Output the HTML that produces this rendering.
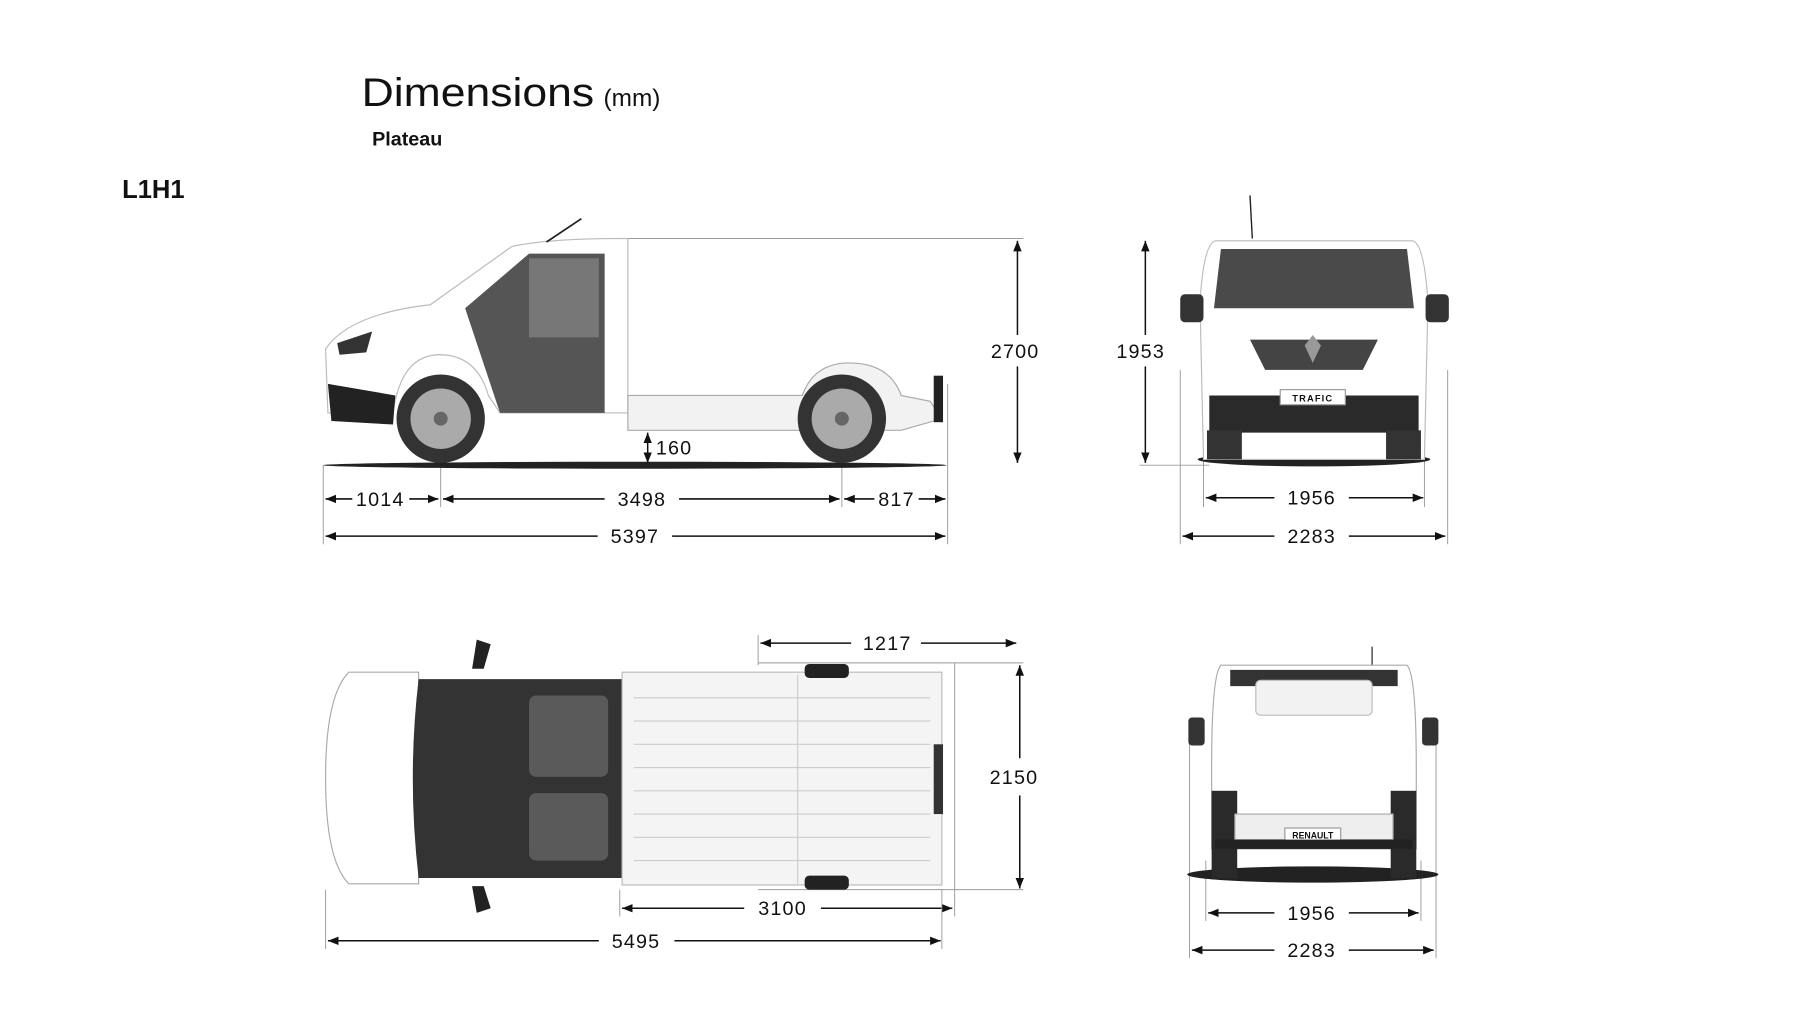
<!DOCTYPE html>
<html><head><meta charset="utf-8"><style>
html,body{margin:0;padding:0;background:#fff;}
svg{display:block;}
text{font-family:"Liberation Sans",sans-serif;fill:#111;}
.d{font-size:17px;letter-spacing:1px;}
</style></head><body>
<svg width="1800" height="1013" viewBox="0 0 1548 871" xmlns="http://www.w3.org/2000/svg">
<defs>
<marker id="a" viewBox="0 0 10 10" refX="10" refY="5" markerWidth="7" markerHeight="7" orient="auto-start-reverse"><path d="M0,1 L10,5 L0,9 z" fill="#111"/></marker>
</defs>
<rect width="1548" height="871" fill="#fff"/>
<text x="311" y="91" font-size="34" textLength="200" lengthAdjust="spacingAndGlyphs">Dimensions</text>
<text x="519" y="91" font-size="21">(mm)</text>
<text x="320" y="125" font-size="17" font-weight="bold">Plateau</text>
<text x="105" y="170" font-size="22" font-weight="bold">L1H1</text>

<!-- SIDE VIEW -->
<g stroke="#999" stroke-width="0.8">
<line x1="278" y1="400" x2="278" y2="468"/><line x1="379" y1="400" x2="379" y2="436"/>
<line x1="724" y1="400" x2="724" y2="436"/><line x1="815" y1="330" x2="815" y2="468"/>
<line x1="540" y1="205" x2="880" y2="205"/>
</g>
<ellipse cx="546" cy="400" rx="268" ry="3" fill="#222"/>
<path d="M280,300 Q300,270 370,262 L440,212 Q470,205 540,205 L540,355 L430,355 L420,340 Q410,305 378,305 Q345,305 338,355 L282,355 Z" fill="#fff" stroke="#bbb"/>
<path d="M400,265 L455,218 L520,218 L520,355 L430,355 Z" fill="#555"/>
<path d="M455,222 L515,222 L515,290 L455,290 Z" fill="#777"/>
<path d="M282,330 L340,340 L338,365 L285,362 Z" fill="#222"/>
<path d="M290,295 L320,285 L315,303 L292,305 Z" fill="#333"/>
<path d="M540,340 L690,340 Q700,312 730,312 Q765,312 775,340 L800,345 L810,360 L775,370 L540,370 Z" fill="#f2f2f2" stroke="#aaa"/>
<rect x="803" y="323" width="8" height="40" fill="#222"/>
<g><circle cx="379" cy="360" r="38" fill="#333"/><circle cx="379" cy="360" r="26" fill="#aaa"/><circle cx="379" cy="360" r="6" fill="#666"/>
<circle cx="724" cy="360" r="38" fill="#333"/><circle cx="724" cy="360" r="26" fill="#aaa"/><circle cx="724" cy="360" r="6" fill="#666"/></g>
<line x1="500" y1="188" x2="470" y2="208" stroke="#222" stroke-width="1.5"/>
<g stroke="#111" stroke-width="1.3" marker-start="url(#a)" marker-end="url(#a)">
<line x1="280" y1="429" x2="303" y2="429" marker-end="none"/><line x1="352" y1="429" x2="377" y2="429" marker-start="none"/>
<line x1="381" y1="429" x2="520" y2="429" marker-end="none"/><line x1="584" y1="429" x2="722" y2="429" marker-start="none"/>
<line x1="726" y1="429" x2="752" y2="429" marker-end="none"/><line x1="790" y1="429" x2="813" y2="429" marker-start="none"/>
<line x1="280" y1="461" x2="514" y2="461" marker-end="none"/><line x1="578" y1="461" x2="813" y2="461" marker-start="none"/>
<line x1="875" y1="207" x2="875" y2="288" marker-end="none"/><line x1="875" y1="315" x2="875" y2="398" marker-start="none"/>
<line x1="557" y1="372" x2="557" y2="398"/>
<line x1="985" y1="207" x2="985" y2="288" marker-end="none"/><line x1="985" y1="315" x2="985" y2="398" marker-start="none"/>
<line x1="1037" y1="428" x2="1096" y2="428" marker-end="none"/><line x1="1160" y1="428" x2="1224" y2="428" marker-start="none"/>
<line x1="1017" y1="461" x2="1096" y2="461" marker-end="none"/><line x1="1160" y1="461" x2="1243" y2="461" marker-start="none"/>
<line x1="654" y1="553" x2="732" y2="553" marker-end="none"/><line x1="792" y1="553" x2="874" y2="553" marker-start="none"/>
<line x1="535" y1="781" x2="640" y2="781" marker-end="none"/><line x1="706" y1="781" x2="819" y2="781" marker-start="none"/>
<line x1="282" y1="809" x2="515" y2="809" marker-end="none"/><line x1="580" y1="809" x2="809" y2="809" marker-start="none"/>
<line x1="877" y1="572" x2="877" y2="652" marker-end="none"/><line x1="877" y1="684" x2="877" y2="764" marker-start="none"/>
<line x1="1039" y1="785" x2="1096" y2="785" marker-end="none"/><line x1="1160" y1="785" x2="1220" y2="785" marker-start="none"/>
<line x1="1025" y1="817" x2="1096" y2="817" marker-end="none"/><line x1="1160" y1="817" x2="1233" y2="817" marker-start="none"/>
</g>
<text class="d" x="327" y="435" text-anchor="middle">1014</text>
<text class="d" x="552" y="435" text-anchor="middle">3498</text>
<text class="d" x="771" y="435" text-anchor="middle">817</text>
<text class="d" x="546" y="467" text-anchor="middle">5397</text>
<text class="d" x="873" y="308" text-anchor="middle">2700</text>
<text class="d" x="564" y="391">160</text>

<!-- FRONT VIEW -->
<g stroke="#999" stroke-width="0.8">
<line x1="980" y1="400" x2="1040" y2="400"/><line x1="1015" y1="318" x2="1015" y2="468"/><line x1="1245" y1="318" x2="1245" y2="468"/>
<line x1="1035" y1="345" x2="1035" y2="436"/><line x1="1225" y1="345" x2="1225" y2="436"/>
</g>
<line x1="1075" y1="168" x2="1077" y2="205" stroke="#222" stroke-width="1.2"/>
<ellipse cx="1130" cy="395" rx="100" ry="6" fill="#222"/>
<path d="M1045,207 L1215,207 Q1225,210 1228,260 L1225,395 L1035,395 L1032,260 Q1035,210 1045,207 Z" fill="#fff" stroke="#bbb"/>
<path d="M1050,214 L1210,214 L1216,265 L1044,265 Z" fill="#4a4a4a"/>
<rect x="1015" y="253" width="20" height="24" rx="4" fill="#333"/><rect x="1226" y="253" width="20" height="24" rx="4" fill="#333"/>
<path d="M1075,292 L1185,292 L1172,318 L1088,318 Z" fill="#444"/>
<path d="M1040,340 L1220,340 L1220,372 L1040,372 Z" fill="#2a2a2a"/>
<rect x="1038" y="370" width="30" height="25" fill="#333"/><rect x="1192" y="370" width="30" height="25" fill="#333"/>
<rect x="1101" y="335" width="56" height="13" fill="#fff" stroke="#999"/>
<text x="1129" y="345" font-size="8" font-weight="bold" text-anchor="middle" letter-spacing="1">TRAFIC</text>
<path d="M1122,297 L1129,288 L1136,297 L1129,312 Z" fill="#999"/>
<text class="d" x="981" y="308" text-anchor="middle">1953</text>
<text class="d" x="1128" y="434" text-anchor="middle">1956</text>
<text class="d" x="1128" y="467" text-anchor="middle">2283</text>

<!-- TOP VIEW -->
<g stroke="#999" stroke-width="0.8">
<line x1="280" y1="765" x2="280" y2="816"/><line x1="810" y1="765" x2="810" y2="816"/>
<line x1="533" y1="765" x2="533" y2="788"/><line x1="821" y1="570" x2="821" y2="788"/>
<line x1="652" y1="546" x2="652" y2="572"/>
<line x1="652" y1="570" x2="880" y2="570"/><line x1="652" y1="765" x2="880" y2="765"/>
</g>
<path d="M300,578 L360,578 L360,760 L300,760 Q280,740 280,669 Q280,598 300,578 Z" fill="#fff" stroke="#aaa"/>
<path d="M360,584 L535,584 L535,755 L360,755 Q350,669 360,584 Z" fill="#333"/>
<rect x="455" y="598" width="68" height="70" rx="6" fill="#5a5a5a"/><rect x="455" y="682" width="68" height="58" rx="6" fill="#5a5a5a"/>
<path d="M410,550 L422,554 L416,575 L406,575 Z" fill="#222"/><path d="M410,785 L422,781 L416,762 L406,762 Z" fill="#222"/>
<rect x="535" y="578" width="275" height="183" fill="#f4f4f4" stroke="#bbb"/>
<g stroke="#ccc" stroke-width="1">
<line x1="545" y1="600" x2="800" y2="600"/><line x1="545" y1="620" x2="800" y2="620"/><line x1="545" y1="640" x2="800" y2="640"/><line x1="545" y1="660" x2="800" y2="660"/><line x1="545" y1="680" x2="800" y2="680"/><line x1="545" y1="700" x2="800" y2="700"/><line x1="545" y1="720" x2="800" y2="720"/><line x1="545" y1="740" x2="800" y2="740"/>
<line x1="686" y1="580" x2="686" y2="760"/>
</g>
<rect x="692" y="571" width="38" height="12" rx="4" fill="#222"/><rect x="692" y="753" width="38" height="12" rx="4" fill="#222"/>
<rect x="803" y="640" width="8" height="60" fill="#333"/>
<text class="d" x="763" y="559" text-anchor="middle">1217</text>
<text class="d" x="673" y="787" text-anchor="middle">3100</text>
<text class="d" x="547" y="815" text-anchor="middle">5495</text>
<text class="d" x="872" y="674" text-anchor="middle">2150</text>

<!-- REAR VIEW -->
<g stroke="#999" stroke-width="0.8">
<line x1="1023" y1="640" x2="1023" y2="824"/><line x1="1235" y1="640" x2="1235" y2="824"/>
<line x1="1037" y1="740" x2="1037" y2="792"/><line x1="1222" y1="740" x2="1222" y2="792"/>
</g>
<line x1="1180" y1="556" x2="1180" y2="572" stroke="#222"/>
<ellipse cx="1129" cy="752" rx="108" ry="7" fill="#222"/>
<path d="M1050,572 L1210,572 Q1218,580 1218,660 L1218,730 L1042,730 L1042,660 Q1042,580 1050,572 Z" fill="#fff" stroke="#aaa"/>
<path d="M1058,576 L1202,576 L1202,590 L1058,590 Z" fill="#333"/>
<rect x="1080" y="585" width="100" height="30" rx="4" fill="#f2f2f2" stroke="#bbb"/>
<rect x="1022" y="617" width="14" height="24" rx="3" fill="#333"/><rect x="1223" y="617" width="14" height="24" rx="3" fill="#333"/>
<rect x="1042" y="680" width="22" height="75" fill="#2a2a2a"/><rect x="1196" y="680" width="22" height="75" fill="#2a2a2a"/>
<rect x="1062" y="700" width="136" height="22" fill="#eee" stroke="#aaa"/>
<rect x="1105" y="712" width="48" height="11" fill="#fff" stroke="#999"/>
<text x="1129" y="721" font-size="7.5" font-weight="bold" text-anchor="middle">RENAULT</text>
<rect x="1045" y="722" width="170" height="8" fill="#222"/>
<text class="d" x="1128" y="791" text-anchor="middle">1956</text>
<text class="d" x="1128" y="823" text-anchor="middle">2283</text>
</svg>
</body></html>
